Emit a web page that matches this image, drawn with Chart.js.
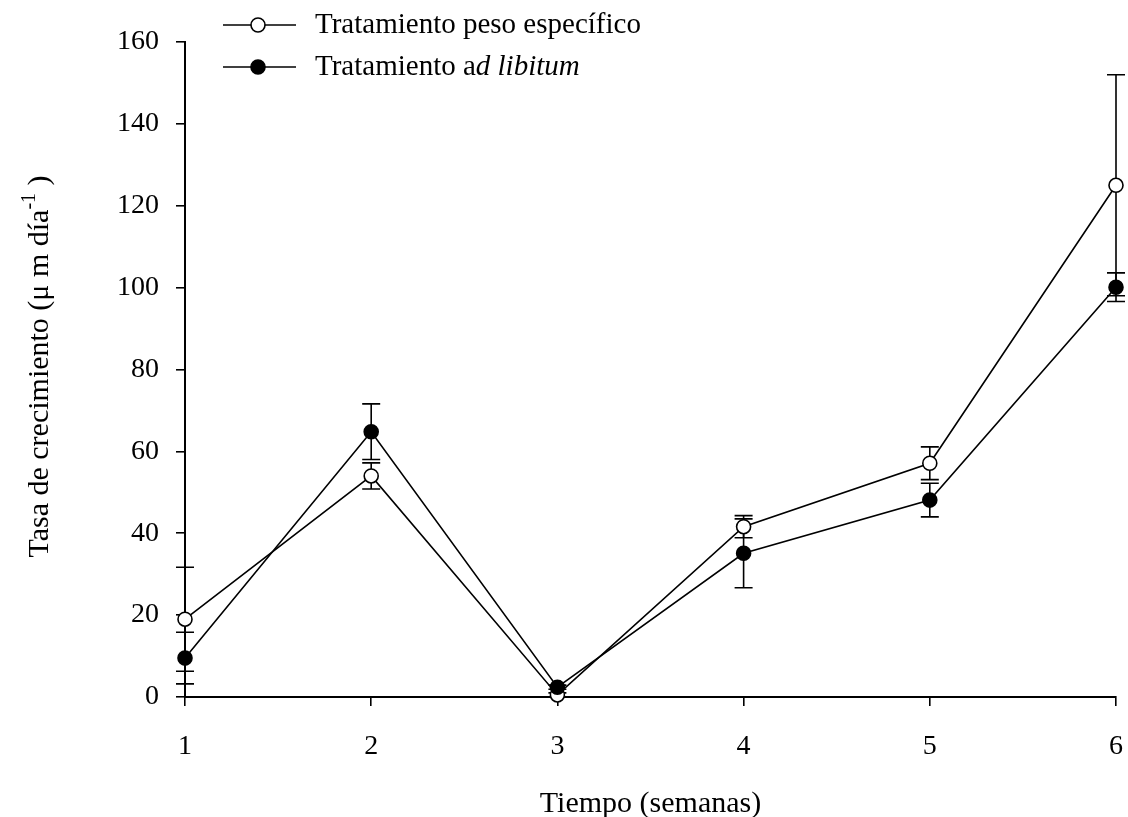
<!DOCTYPE html>
<html><head><meta charset="utf-8">
<script src="https://cdn.jsdelivr.net/npm/chart.js@4.4.1/dist/chart.umd.min.js"></script>
<style>html,body{margin:0;padding:0;background:#fff}</style>
</head><body>
<canvas id="c" width="1128" height="817"></canvas>
<script>
// ---- data ----
const weeks = [1, 2, 3, 4, 5, 6];
const pesoMean = [19.0, 54.0, 0.5, 41.6, 57.1, 125.0];
const pesoErr  = [12.7, 3.2, 0.5, 2.7, 4.0, 27.0];
const libMean  = [9.5, 64.8, 2.4, 35.1, 48.1, 100.1];
const libErr   = [6.3, 6.8, 0.5, 8.4, 4.1, 3.5];
const yTicks = [0, 20, 40, 60, 80, 100, 120, 140, 160];
const seriesNames = [
  [{t: 'Tratamiento peso específico', it: false}],
  [{t: 'Tratamiento a', it: false}, {t: 'd libitum', it: true}]
];
const xTitle = 'Tiempo (semanas)';
const yTitleMain = 'Tasa de crecimiento (μ m día';
const yTitleSup = '-1';
const yTitleEnd = ' )';

const FONT = '"Liberation Serif", "Times New Roman", serif';
const FS_TICK = 28;
const FS_LEG = 29;
const FS_TITLE = 30;

const errorBars = {
  id: 'errorBars',
  beforeDatasetsDraw(chart) {
    const ctx = chart.ctx, xs = chart.scales.x, ys = chart.scales.y;
    ctx.save();
    ctx.strokeStyle = '#000';
    ctx.lineWidth = 1.6;
    chart.data.datasets.forEach(ds => {
      ds.data.forEach((p, i) => {
        const e = ds.errors[i];
        const x = xs.getPixelForValue(p.x);
        const yt = ys.getPixelForValue(p.y + e);
        const yb = ys.getPixelForValue(p.y - e);
        ctx.beginPath();
        ctx.moveTo(x, yt); ctx.lineTo(x, yb);
        ctx.moveTo(x - 9, yt); ctx.lineTo(x + 9, yt);
        ctx.moveTo(x - 9, yb); ctx.lineTo(x + 9, yb);
        ctx.stroke();
      });
    });
    ctx.restore();
  }
};

const customText = {
  id: 'customText',
  afterDraw(chart) {
    const ctx = chart.ctx;
    ctx.save();
    // legend
    const fills = ['#fff', '#000'];
    const rowsY = [25, 67];
    seriesNames.forEach((parts, k) => {
      const y = rowsY[k];
      ctx.strokeStyle = '#000';
      ctx.lineWidth = 1.6;
      ctx.beginPath(); ctx.moveTo(223, y); ctx.lineTo(296, y); ctx.stroke();
      ctx.beginPath(); ctx.arc(258, y, 7, 0, Math.PI * 2);
      ctx.fillStyle = fills[k]; ctx.fill(); ctx.stroke();
      let x = 315;
      ctx.fillStyle = '#000';
      ctx.textBaseline = 'middle';
      ctx.textAlign = 'left';
      parts.forEach(p => {
        ctx.font = (p.it ? 'italic ' : '') + FS_LEG + 'px ' + FONT;
        ctx.fillText(p.t, x, y);
        x += ctx.measureText(p.t).width;
      });
    });
    // y title
    const ca = chart.chartArea;
    ctx.translate(48, (ca.top + ca.bottom) / 2 - 3);
    ctx.rotate(-Math.PI / 2);
    const supFS = 20;
    ctx.font = FS_TITLE + 'px ' + FONT;
    const w1 = ctx.measureText(yTitleMain).width;
    ctx.font = supFS + 'px ' + FONT;
    const w2 = ctx.measureText(yTitleSup).width;
    ctx.font = FS_TITLE + 'px ' + FONT;
    const w3 = ctx.measureText(yTitleEnd).width;
    let sx = -(w1 + w2 + w3) / 2;
    ctx.textBaseline = 'alphabetic';
    ctx.fillStyle = '#000';
    ctx.fillText(yTitleMain, sx, 0);
    sx += w1;
    ctx.font = supFS + 'px ' + FONT;
    ctx.fillText(yTitleSup, sx, -13);
    sx += w2;
    ctx.font = FS_TITLE + 'px ' + FONT;
    ctx.fillText(yTitleEnd, sx, 0);
    ctx.restore();
  }
};

const ds = (mean, err, fill, order) => ({
  data: weeks.map((w, i) => ({x: w, y: mean[i]})),
  errors: err,
  borderColor: '#000',
  borderWidth: 1.6,
  backgroundColor: fill,
  pointBackgroundColor: fill,
  pointBorderColor: '#000',
  pointBorderWidth: 1.6,
  pointRadius: 7,
  pointHoverRadius: 7,
  tension: 0,
  fill: false,
  clip: false,
  order: order
});

new Chart(document.getElementById('c'), {
  type: 'line',
  data: {
    datasets: [
      ds(pesoMean, pesoErr, '#fff', 1),
      ds(libMean, libErr, '#000', 0)
    ]
  },
  plugins: [errorBars, customText],
  options: {
    responsive: false,
    animation: false,
    events: [],
    layout: {padding: {left: 0, top: 42, right: 12, bottom: 0}},
    plugins: {legend: {display: false}, tooltip: {enabled: false}},
    scales: {
      x: {
        type: 'linear', min: 1, max: 6,
        afterFit: s => { s.height = 120; s.paddingRight = 0; s.paddingLeft = 0; },
        afterBuildTicks: s => { s.ticks = weeks.map(v => ({value: v})); },
        grid: {drawOnChartArea: false, drawTicks: true, tickLength: 9, color: '#000', lineWidth: 1.6},
        border: {display: true, color: '#000', width: 2},
        ticks: {color: '#000', font: {family: FONT, size: FS_TICK}, padding: 24, maxRotation: 0},
        title: {display: true, text: xTitle, color: '#000', font: {family: FONT, size: FS_TITLE, lineHeight: 0.85}, padding: {top: 0, bottom: 0}}
      },
      y: {
        min: 0, max: 160,
        afterFit: s => { s.width = 185; s.paddingTop = 0; s.paddingBottom = 0; },
        afterBuildTicks: s => { s.ticks = yTicks.map(v => ({value: v})); },
        grid: {drawOnChartArea: false, drawTicks: true, tickLength: 9, color: '#000', lineWidth: 1.6},
        border: {display: true, color: '#000', width: 2},
        ticks: {color: '#000', font: {family: FONT, size: FS_TICK}, padding: 17},
        title: {display: false}
      }
    }
  }
});
</script>
</body></html>
